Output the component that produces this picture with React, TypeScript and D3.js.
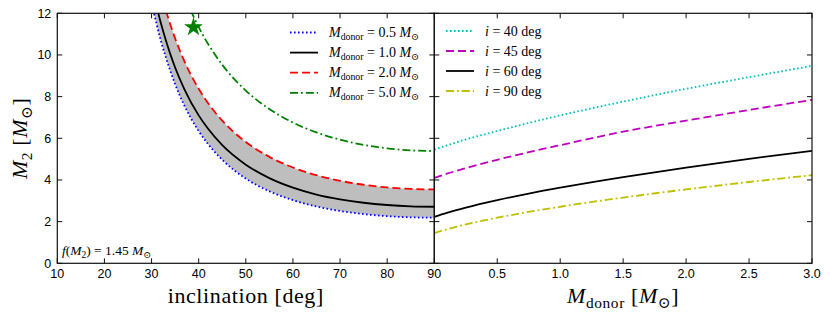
import * as d3 from "d3";
import React from "react";

// left panel: M2 vs inclination for several donor masses
const incl = [30, 31, 32, 33, 34, 35, 37, 40, 42, 45, 50, 55, 60, 65, 70, 75, 80, 85, 90];
const mDonor05 = [12.54, 11.55, 10.66, 9.907, 9.22, 8.6, 7.56, 6.35, 5.723, 4.97, 4.067, 3.457, 3.03, 2.727, 2.513, 2.362, 2.263, 2.206, 2.189];
const mDonor10 = [13.4, 12.4, 11.51, 10.73, 10.03, 9.4, 8.34, 7.1, 6.455, 5.67, 4.735, 4.09, 3.632, 3.302, 3.071, 2.906, 2.798, 2.735, 2.715];
const mDonor20 = [14.92, 13.9, 12.98, 12.17, 11.447, 10.795, 9.684, 8.375, 7.686, 6.847, 5.822, 5.109, 4.597, 4.228, 3.959, 3.77, 3.642, 3.57, 3.546];
const inclG = [37, 38, 39, 40, 42, 45, 50, 55, 60, 65, 70, 75, 80, 85, 90];
const mDonor50 = [12.84, 12.29, 11.8, 11.336, 10.53, 9.53, 8.29, 7.403, 6.757, 6.282, 5.934, 5.683, 5.518, 5.421, 5.389];
const star = { i: 38.9, m: 11.33 };

// right panel: M2 vs donor mass for several inclinations
const mDon = [0, 0.1, 0.25, 0.5, 0.75, 1.0, 1.5, 2.0, 2.5, 3.0];
const inc40 = [5.459, 5.66, 5.945, 6.35, 6.735, 7.1, 7.76, 8.375, 8.935, 9.475];
const inc45 = [4.101, 4.3, 4.566, 4.97, 5.332, 5.67, 6.318, 6.847, 7.36, 7.845];
const inc60 = [2.2325, 2.42, 2.67, 3.03, 3.349, 3.632, 4.141, 4.597, 5.015, 5.4];
const inc90 = [1.45, 1.633, 1.866, 2.189, 2.468, 2.715, 3.157, 3.546, 3.902, 4.23];

const leftTicksX = [10, 20, 30, 40, 50, 60, 70, 80, 90];
const rightTicksX = [0.5, 1.0, 1.5, 2.0, 2.5, 3.0];
const ticksY = [0, 2, 4, 6, 8, 10, 12];

const W = 830, H = 318;
const top = 13.3, bottom = 263.3;
const lx0 = 57.3, lx1 = 434.3, rx1 = 812;

const serif = "'Liberation Serif', 'DejaVu Serif', serif";
const sans = "'Liberation Sans', Arial, sans-serif";

const dotted = "1.6,2.4";
const dashed = "8,4";
const dashdot = "8,3,1.8,3";

// italic M with an upright subscript
function MathMass({ sub, size }: { sub: string; size: number }) {
  return (
    <>
      <tspan fontStyle="italic">M</tspan>
      <tspan fontSize={size * 0.7} baselineShift={-size * 0.22}>{sub}</tspan>
    </>
  );
}

export default function App() {
  const xL = d3.scaleLinear().domain([10, 90]).range([lx0, lx1]);
  const xR = d3.scaleLinear().domain([0, 3]).range([lx1, rx1]);
  const y = d3.scaleLinear().domain([0, 12]).range([bottom, top]);

  const lineL = (xs: number[], ys: number[]) =>
    d3.line<number>().x((_, k) => xL(xs[k])).y((d) => y(d)).curve(d3.curveMonotoneX)(ys) || "";
  const lineR = (ys: number[]) =>
    d3.line<number>().x((_, k) => xR(mDon[k])).y((d) => y(d)).curve(d3.curveMonotoneX)(ys) || "";
  const band =
    d3
      .area<number>()
      .x((_, k) => xL(incl[k]))
      .y0((_, k) => y(mDonor05[k]))
      .y1((d) => y(d))
      .curve(d3.curveMonotoneX)(mDonor20) || "";

  const leftSeries = [
    { xs: incl, ys: mDonor05, color: "#0000ff", dash: dotted, label: "0.5" },
    { xs: incl, ys: mDonor10, color: "#000000", dash: "", label: "1.0" },
    { xs: incl, ys: mDonor20, color: "#ff0000", dash: dashed, label: "2.0" },
    { xs: inclG, ys: mDonor50, color: "#008000", dash: dashdot, label: "5.0" },
  ];
  const rightSeries = [
    { ys: inc40, color: "#00bfbf", dash: dotted, label: "40" },
    { ys: inc45, color: "#bf00bf", dash: dashed, label: "45" },
    { ys: inc60, color: "#000000", dash: "", label: "60" },
    { ys: inc90, color: "#bfbf00", dash: dashdot, label: "90" },
  ];

  const tk = 5;
  const legFs = 14;
  const axFs = 22;

  return (
    <svg width={W} height={H} style={{ position: "absolute", left: 0, top: 0, background: "#fff" }}>
      <defs>
        <clipPath id="clipL">
          <rect x={lx0} y={top} width={lx1 - lx0} height={bottom - top} />
        </clipPath>
        <clipPath id="clipR">
          <rect x={lx1} y={top} width={rx1 - lx1} height={bottom - top} />
        </clipPath>
      </defs>

      {/* left panel data */}
      <g clipPath="url(#clipL)">
        <path d={band} fill="#bebebe" />
        {leftSeries.map((s) => (
          <path key={s.label} d={lineL(s.xs, s.ys)} fill="none" stroke={s.color} strokeWidth={1.8} strokeDasharray={s.dash} />
        ))}
      </g>
      <path
        d={d3.symbol().type(d3.symbolStar).size(110)() || ""}
        transform={`translate(${xL(star.i)},${y(star.m)})`}
        fill="#008000"
      />

      {/* right panel data */}
      <g clipPath="url(#clipR)">
        {rightSeries.map((s) => (
          <path key={s.label} d={lineR(s.ys)} fill="none" stroke={s.color} strokeWidth={1.8} strokeDasharray={s.dash} />
        ))}
      </g>

      {/* frames */}
      <g fill="none" stroke="#111" strokeWidth={1.2}>
        <rect x={lx0} y={top} width={lx1 - lx0} height={bottom - top} />
        <rect x={lx1} y={top} width={rx1 - lx1} height={bottom - top} />
      </g>

      {/* ticks */}
      <g stroke="#111" strokeWidth={1}>
        {leftTicksX.map((t) => (
          <g key={"lx" + t}>
            <line x1={xL(t)} x2={xL(t)} y1={bottom} y2={bottom - tk} />
            <line x1={xL(t)} x2={xL(t)} y1={top} y2={top + tk} />
          </g>
        ))}
        {rightTicksX.map((t) => (
          <g key={"rx" + t}>
            <line x1={xR(t)} x2={xR(t)} y1={bottom} y2={bottom - tk} />
            <line x1={xR(t)} x2={xR(t)} y1={top} y2={top + tk} />
          </g>
        ))}
        {ticksY.map((t) => (
          <g key={"y" + t}>
            <line x1={lx0} x2={lx0 + tk} y1={y(t)} y2={y(t)} />
            <line x1={lx1 - tk} x2={lx1 + tk} y1={y(t)} y2={y(t)} />
            <line x1={rx1 - tk} x2={rx1} y1={y(t)} y2={y(t)} />
          </g>
        ))}
      </g>

      {/* tick labels */}
      <g fontFamily={sans} fontSize={12.5} fill="#000">
        {ticksY.map((t) => (
          <text key={"yl" + t} x={lx0 - 6} y={y(t)} dy="0.36em" textAnchor="end">
            {t}
          </text>
        ))}
        {leftTicksX.map((t) => (
          <text key={"xl" + t} x={xL(t)} y={bottom + 15} textAnchor="middle">
            {t}
          </text>
        ))}
        {rightTicksX.map((t) => (
          <text key={"xr" + t} x={xR(t)} y={bottom + 15} textAnchor="middle">
            {d3.format(".1f")(t)}
          </text>
        ))}
      </g>

      {/* axis labels */}
      <g fontFamily={serif} fontSize={axFs} letterSpacing={0.6}>
        <text x={(lx0 + lx1) / 2} y={303} textAnchor="middle">
          inclination [deg]
        </text>
        <text x={(lx1 + rx1) / 2} y={303} textAnchor="middle">
          <MathMass sub="donor" size={axFs} /> [<MathMass sub="⊙" size={axFs} />]
        </text>
        <text transform={`translate(27,${(top + bottom) / 2}) rotate(-90)`} textAnchor="middle">
          <MathMass sub="2" size={axFs} /> [<MathMass sub="⊙" size={axFs} />]
        </text>
      </g>

      {/* annotation */}
      <text x={62} y={255} fontFamily={serif} fontSize={13.5}>
        <tspan fontStyle="italic">f</tspan>(<MathMass sub="2" size={13.5} />) = 1.45 <MathMass sub="⊙" size={13.5} />
      </text>

      {/* legends */}
      <g fontFamily={serif} fontSize={legFs}>
        {leftSeries.map((s, k) => {
          const ly = 32.5 + k * 20.1;
          return (
            <g key={"ll" + s.label}>
              <line x1={290} x2={318} y1={ly} y2={ly} stroke={s.color} strokeWidth={1.8} strokeDasharray={s.dash} />
              <text x={329} y={ly + 4.5}>
                <MathMass sub="donor" size={legFs} /> = {s.label} <MathMass sub="⊙" size={legFs} />
              </text>
            </g>
          );
        })}
        {rightSeries.map((s, k) => {
          const ly = 31 + k * 20;
          return (
            <g key={"rl" + s.label}>
              <line x1={446} x2={474} y1={ly} y2={ly} stroke={s.color} strokeWidth={1.8} strokeDasharray={s.dash} />
              <text x={485} y={ly + 4.5}>
                <tspan fontStyle="italic">i</tspan> = {s.label} deg
              </text>
            </g>
          );
        })}
      </g>
    </svg>
  );
}
